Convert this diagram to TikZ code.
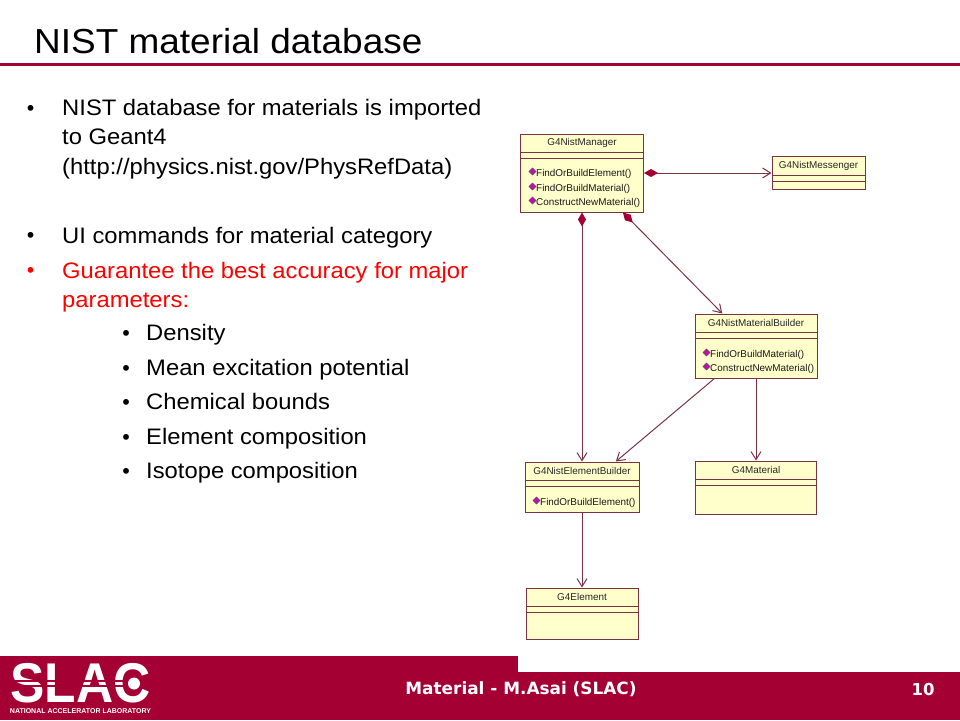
\documentclass[tikz,border=0pt]{standalone}
\usepackage{fontspec}
\setmainfont{Liberation Sans}
\newfontfamily\footfont{DejaVu Sans}
\usetikzlibrary{positioning,arrows.meta,shapes.geometric}
\definecolor{slacred}{HTML}{A50034}
\definecolor{umlline}{HTML}{7A3343}
\definecolor{umlfill}{HTML}{FFFFCC}
\definecolor{umlmark}{HTML}{B814A8}

\begin{document}
\begin{tikzpicture}[x=1pt,y=-1pt,
    bodyline/.style={anchor=base west, inner sep=0pt, xscale=1.062, font=\fontsize{22.4}{28}\selectfont},
    bulletline/.style={anchor=base west, inner sep=0pt, font=\fontsize{21.5}{24}\selectfont},
    classbox/.style={rectangle, draw=umlline, fill=umlfill, line width=1pt, inner sep=0pt},
    classline/.style={draw=umlline, line width=1pt},
    classtitle/.style={inner sep=0pt, font=\fontsize{9.9}{11}\selectfont, text=black!85},
    methodtext/.style={anchor=west, inner sep=0pt, font=\fontsize{9.9}{11}\selectfont, text=black!90},
    methodmark/.style={diamond, draw=black!65, fill=umlmark, line width=0.4pt, inner sep=0pt, minimum size=7.5pt},
    composes/.style={draw=umlline, line width=1pt, {Diamond[length=14pt,width=8pt,color=slacred]}-{Straight Barb[length=8pt,width=10pt]}},
    refers/.style={draw=umlline, line width=1pt, -{Straight Barb[length=8pt,width=10pt]}},]
    \useasboundingbox (0,0) rectangle (960,720);
    %Title
    \node[anchor=base west, inner sep=0pt, xscale=1.065, font=\fontsize{34.7}{44}\selectfont] (title) at (34,53.5) {NIST material database};
    \draw[slacred, line width=3pt] (0,64) -- (960,64);

    %Text
    \foreach \ty/\ttext in {115/NIST database for materials is imported, 144/to Geant4, 174/{(http://physics.nist.gov/PhysRefData)}, 243/UI commands for material category}
      \node[bodyline] at (62,\ty) {\ttext};
    \foreach \ty in {115,242}
      \node[bulletline] at (26.8,\ty) {•};
    \node[bulletline, text=red] at (26.8,277) {•};
    \node[bodyline, text=red] at (62,278) {Guarantee the best accuracy for major};
    \node[bodyline, text=red] at (62,307) {parameters:};
    \foreach \ty/\ttext in {340/Density, 375/Mean excitation potential, 409/Chemical bounds, 444/Element composition, 478/Isotope composition} {
      \node[bulletline] at (122.2,\ty) {•};
      \node[bodyline] at (146,\ty) {\ttext};
    }

    %Nodes
    \foreach \cname/\cx/\cy/\cw/\ch/\ctitle in {
        manager/582/173/123/78/G4NistManager,
        messenger/818.5/173/93/33/G4NistMessenger,
        matbuilder/756/346/122/64/G4NistMaterialBuilder,
        elbuilder/582/487/114/50/G4NistElementBuilder,
        material/756/487.5/121/53/G4Material,
        element/582/613.5/112/51/G4Element} {
      \node[classbox, minimum width=\cw pt, minimum height=\ch pt] (\cname) at (\cx,\cy) {};
      \node[classtitle] at ([yshift=-9.5pt]\cname.north) {\ctitle};
      \draw[classline] ([yshift=-19pt]\cname.north west) -- ([yshift=-19pt]\cname.north east);
      \draw[classline] ([yshift=-25pt]\cname.north west) -- ([yshift=-25pt]\cname.north east);
    }

    %Methods
    \foreach \mname/\mx/\my/\mtext in {
        m1/536/174/FindOrBuildElement(), m2/536/189/FindOrBuildMaterial(), m3/536/203/ConstructNewMaterial(),
        m4/710/355/FindOrBuildMaterial(), m5/710/369/ConstructNewMaterial(),
        m6/540/503/FindOrBuildElement()} {
      \node[methodtext] (\mname) at (\mx,\my) {\mtext};
      \node[methodmark] at ([xshift=-3.5pt,yshift=2.5pt]\mname.west) {};
    }

    %Lines
    \draw[composes] (manager.east) -- (messenger.west);
    \draw[composes] (manager.south) -- (elbuilder.north);
    \draw[composes] (manager.-44) -- (matbuilder.136);
    \draw[refers] (matbuilder.218) -- (elbuilder.37);
    \draw[refers] (matbuilder.south) -- (material.north);
    \draw[refers] (elbuilder.south) -- (element.north);

    %Footer
    \fill[slacred] (0,656) rectangle (518,720);
    \fill[slacred] (518,672) rectangle (960,720);
    \node[inner sep=0pt, text=white, font=\footfont\bfseries\fontsize{16.9}{20}\selectfont] (talk) at (521,689) {Material - M.Asai (SLAC)};
    \node[inner sep=0pt, text=white, font=\footfont\bfseries\fontsize{16.5}{20}\selectfont] (page) at (923,689) {10};

    %Logo
    \node[inner sep=0pt, text=white, xscale=0.92, font=\bfseries\fontsize{56}{60}\selectfont] (slac) at (80.5,683.5) {SLAC};
    \draw[slacred, line width=1.4pt] (8,681) -- (153,681);
    \draw[slacred, line width=1.4pt] (8,686) -- (153,686);
    \fill[white] (134,683.5) circle (6);
    \node[inner sep=0pt, text=white, font=\bfseries\fontsize{7}{8}\selectfont] (lab) at (80.5,711.5) {NATIONAL ACCELERATOR LABORATORY};
  \end{tikzpicture}
\end{document}
